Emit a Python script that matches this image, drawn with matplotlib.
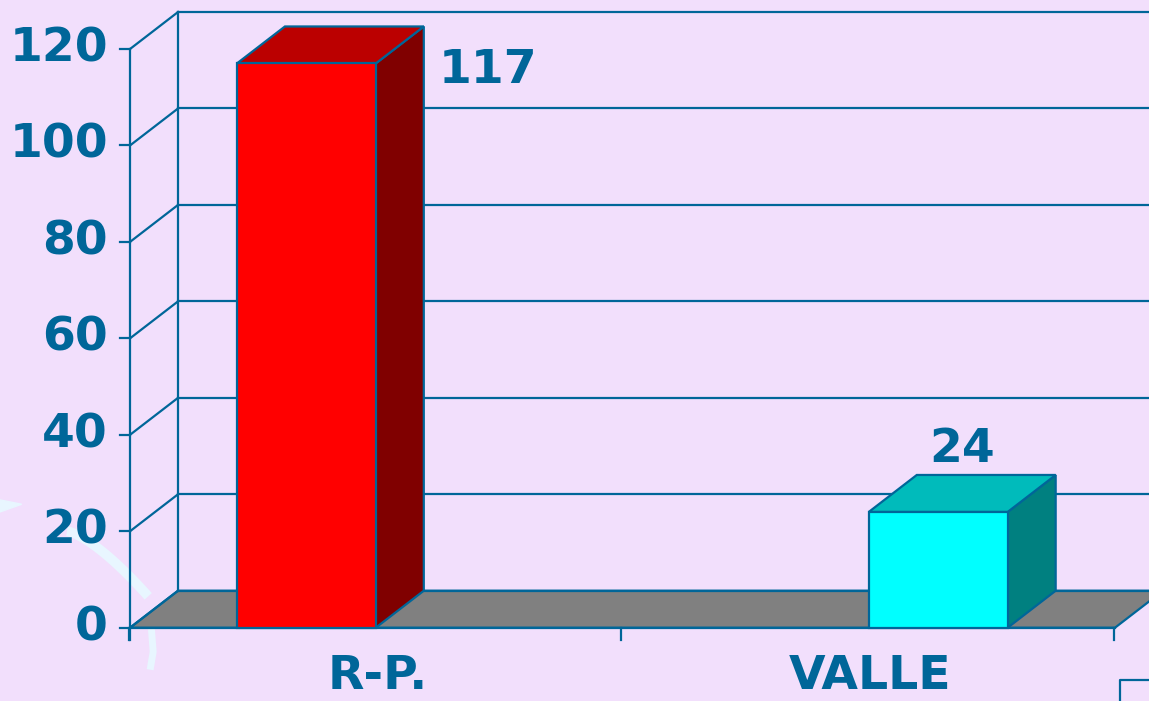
import numpy as np
import matplotlib
matplotlib.use("Agg")
import matplotlib.pyplot as plt
from matplotlib.patches import Polygon, Rectangle

# Daten
categories = ['R-P.', 'VALLE']
values = [117, 24]
y_ticks = [0, 20, 40, 60, 80, 100, 120]

# Farben
front_colors = ['#FF0000', '#00FFFF']
top_colors = ['#BB0000', '#00BBBB']
side_colors = ['#800000', '#008080']
line_color = '#006699'
bg_color = '#F2DFFC'

# Layout (Datenkoordinaten: x = Kategorien, y = Werte)
bar_left = [0.217, 1.5]
bar_width = 0.282
dx, dy = 0.0975, 7.67          # Tiefenversatz der 3D-Darstellung
x_max = 2.0                    # rechtes Ende des Bodens
lw = 1.6

fig = plt.figure(figsize=(11.49, 7.01), dpi=100)
fig.patch.set_facecolor(bg_color)
ax = fig.add_axes([0, 0, 1, 1])
ax.set_xlim(-0.264, 2.069)
ax.set_ylim(-15.2, 130.16)
ax.axis('off')
ax.set_facecolor(bg_color)

# Dekoration links unten (heller Bogen)
t = np.linspace(0, 1, 50)
ax.plot(-0.128 + 0.165 * t, 20.0 - 13.5 * t**1.4, color='#E8F6FF', lw=7,
        solid_capstyle='butt', zorder=0)
ax.plot([0.044, 0.047, 0.042], [-1.0, -5.0, -8.0], color='#E8F6FF', lw=5, zorder=0)
ax.add_patch(Polygon([[-0.264, 26.5], [-0.22, 25.6], [-0.264, 24.0]],
                     closed=True, color='#E8F6FF', zorder=0))

# Boden
ax.add_patch(Polygon([[0, 0], [x_max, 0], [x_max + dx, dy], [dx, dy]], closed=True,
                     facecolor='#808080', edgecolor=line_color, lw=lw, zorder=1))

# Rueckwand und Seitenwand mit Gitterlinien
for v in y_ticks:
    ax.plot([dx, 2.2], [v + dy, v + dy], color=line_color, lw=lw, zorder=1)
    ax.plot([0, dx], [v, v + dy], color=line_color, lw=lw, zorder=1)
    ax.plot([-0.02, 0], [v, v], color=line_color, lw=lw, zorder=1)
    ax.text(-0.045, v, str(v), ha='right', va='center', fontsize=34,
            fontweight='bold', color=line_color)
ax.plot([dx, dx], [dy, y_ticks[-1] + dy], color=line_color, lw=lw, zorder=1)
ax.plot([0, 0], [-2.5, y_ticks[-1]], color=line_color, lw=lw, zorder=1)

# x-Achse vorne
ax.plot([0, x_max], [0, 0], color=line_color, lw=lw, zorder=1)
for xt in range(len(categories) + 1):
    ax.plot([xt - 0.003, xt - 0.003], [0, -2.5], color=line_color, lw=lw, zorder=1)
for i, cat in enumerate(categories):
    ax.text(i + 0.503, -12.7, cat, ha='center', va='baseline', fontsize=34,
            fontweight='bold', color=line_color)

# 3D-Balken
for i, v in enumerate(values):
    x0 = bar_left[i]
    x1 = x0 + bar_width
    ax.add_patch(Polygon([[x1, 0], [x1 + dx, dy], [x1 + dx, v + dy], [x1, v]], closed=True,
                         facecolor=side_colors[i], edgecolor=line_color, lw=lw, zorder=3))
    ax.add_patch(Polygon([[x0, v], [x1, v], [x1 + dx, v + dy], [x0 + dx, v + dy]], closed=True,
                         facecolor=top_colors[i], edgecolor=line_color, lw=lw, zorder=3))
    ax.add_patch(Rectangle((x0, 0), bar_width, v, facecolor=front_colors[i],
                           edgecolor=line_color, lw=lw, zorder=4))

# Wertebeschriftungen
ax.text(bar_left[0] + bar_width + dx + 0.03, values[0] - 1.5, str(values[0]),
        ha='left', va='center', fontsize=34, fontweight='bold', color=line_color, zorder=5)
ax.text(bar_left[1] + bar_width / 2 + dx / 2, values[1] + dy + 0.6, str(values[1]),
        ha='center', va='bottom', fontsize=34, fontweight='bold', color=line_color, zorder=5)

# Dekoration rechts unten
ax.plot([2.01, 2.01, 2.1], [-16, -10.8, -10.8], color=line_color, lw=lw, zorder=1)

plt.savefig("out.png", dpi=100, facecolor=bg_color)
